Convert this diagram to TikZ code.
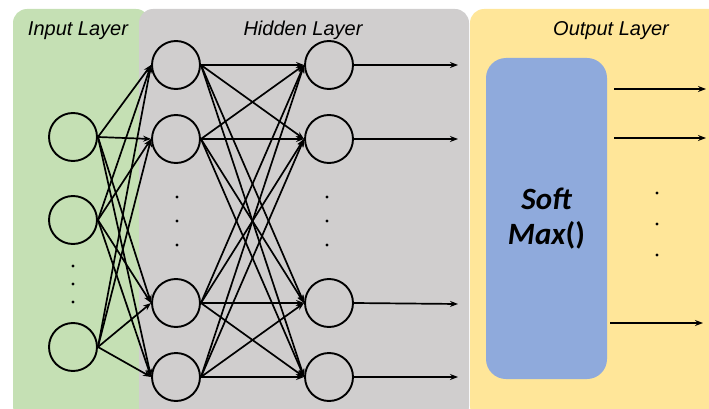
\documentclass[tikz,border=0pt]{standalone}
\usepackage{fontspec}
\setmainfont{Liberation Sans}
\newfontfamily\calib{Carlito}
\usetikzlibrary{arrows.meta}
\definecolor{ingreen}{HTML}{C5E0B4}
\definecolor{hidgray}{HTML}{D0CECE}
\definecolor{outyellow}{HTML}{FFE699}
\definecolor{smblue}{HTML}{8FAADC}
\tikzset{
  neuron/.style={circle, draw=black, line width=1.9pt, minimum size=48pt, inner sep=0pt},
  link/.style={line width=1.7pt, -{Stealth[length=8pt,width=6pt]}},
  panel/.style={rounded corners=14pt},
  title/.style={font=\itshape\fontsize{20}{22}\selectfont, anchor=base},
  vdot/.style={circle, fill=black, inner sep=0pt, minimum size=3.2pt},
}
\begin{document}
\begin{tikzpicture}[x=1pt,y=-1pt]
\useasboundingbox (0,0) rectangle (709,409);
\clip (0,0) rectangle (709,409);
% layer panels
\fill[ingreen, panel] (13,9) rectangle (150,420);
\fill[hidgray, panel] (139,9) rectangle (469,420);
\fill[outyellow, panel] (470,9) rectangle (730,420);
% titles
\node[title] (tin) at (78,36) {Input Layer};
\node[title] (thid) at (303,36) {Hidden Layer};
\node[title] (tout) at (611,36) {Output Layer};
% input neurons
\node[neuron] (i1) at (73,137) {};
\node[neuron] (i2) at (73,220) {};
\node[neuron] (i3) at (73,347) {};
% first hidden column
\node[neuron] (a1) at (176,65) {};
\node[neuron] (a2) at (176,139) {};
\node[neuron] (a3) at (176,303) {};
\node[neuron] (a4) at (176,377) {};
% second hidden column
\node[neuron] (b1) at (329,65) {};
\node[neuron] (b2) at (329,139) {};
\node[neuron] (b3) at (329,303) {};
\node[neuron] (b4) at (329,377) {};
% ellipsis dots
\foreach \y [count=\k] in {266,284,302} \node[vdot] (di\k) at (73,\y) {};
\foreach \y [count=\k] in {197,221,245} {
  \node[vdot] (da\k) at (177,\y) {};
  \node[vdot] (db\k) at (327,\y) {};
}
\foreach \y [count=\k] in {193,224,255} \node[vdot] (do\k) at (657,\y) {};
% full connections, east side to west side
\foreach \s in {i1,i2,i3}
  \foreach \t in {a1,a2,a3,a4}
    \draw[link] (\s.east) -- (\t.west);
\foreach \s in {a1,a2,a3,a4}
  \foreach \t in {b1,b2,b3,b4}
    \draw[link] (\s.east) -- (\t.west);
% hidden outputs
\foreach \s/\y [count=\k] in {b1/65,b2/139,b3/304,b4/377} {
  \coordinate (e\k) at (458,\y);
  \draw[link] (\s.east) -- (e\k);
}
% softmax block
\node[fill=smblue, rounded corners=20pt, minimum width=121pt, minimum height=321pt,
      inner sep=0pt, align=center,
      font=\calib\bfseries\fontsize{31}{35}\selectfont] (sm) at (546.5,218.5)
      {\itshape Soft\\\itshape Max\upshape()};
% outputs
\coordinate (o1s) at (614,89);  \coordinate (o1e) at (706,89);
\coordinate (o2s) at (614,138); \coordinate (o2e) at (706,138);
\coordinate (o3s) at (610,323); \coordinate (o3e) at (703,323);
\draw[link] (o1s) -- (o1e);
\draw[link] (o2s) -- (o2e);
\draw[link] (o3s) -- (o3e);
\end{tikzpicture}
\end{document}
